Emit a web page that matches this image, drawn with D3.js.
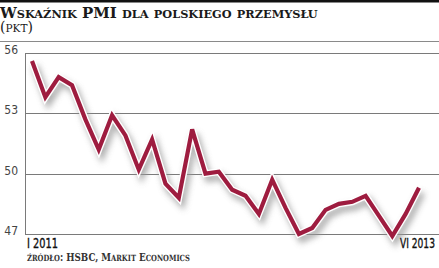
<!DOCTYPE html>
<html><head><meta charset="utf-8">
<script src="https://cdn.jsdelivr.net/npm/d3@7"></script>
<style>html,body{margin:0;padding:0;background:#fff;overflow:hidden}</style>
</head><body>
<svg id="c" width="439" height="268"></svg>
<script>
const months = d3.range(30); // I 2011 .. VI 2013
const pmi = [55.6,53.8,54.8,54.4,52.7,51.2,52.9,51.9,50.2,51.7,49.5,48.8,
             52.2,50.0,50.1,49.2,48.9,48.0,49.7,48.3,47.0,47.3,48.2,48.5,
             48.6,48.9,47.9,46.9,48.0,49.3];
const yTicks = [56,53,50,47];
const xLabels = ["I 2011","VI 2013"];
const title = "Wskaźnik PMI dla polskiego przemysłu";
const unit = "(pkt)";
const source = "źródło: HSBC, Markit Economics";

const svg = d3.select("#c");
const x = d3.scaleLinear().domain([0,29]).range([32,419]);
const y = d3.scaleLinear().domain([47,56]).range([234,53]);
const SERIF = "'DejaVu Serif', serif";
const COND = "'DejaVu Sans Condensed', 'DejaVu Sans', sans-serif";

function fitText(sel, x0, yb, w, anchor){
  const n = sel.node();
  const L = n.getComputedTextLength ? n.getComputedTextLength() : n.getBBox().width;
  const s = w / L;
  const tx = anchor === "end" ? x0 - w : x0;
  sel.attr("x",0).attr("y",0).attr("transform",`translate(${tx},${yb}) scale(${s},1)`);
  return sel;
}
function smallCaps(sel, str, big, small){
  const parts = [];
  for (const ch of str){
    const isLow = ch !== ch.toUpperCase();
    const last = parts[parts.length-1];
    if (last && last.low === isLow) last.t += ch; else parts.push({t:ch, low:isLow});
  }
  sel.selectAll("tspan").data(parts).join("tspan")
    .attr("font-size", d=>d.low?small:big).text(d=>d.low?d.t.toUpperCase():d.t);
  return sel;
}

svg.append("rect").attr("x",0).attr("y",0).attr("width",439).attr("height",2.5).attr("fill","#111");
svg.append("line").attr("x1",0).attr("x2",439).attr("y1",41.5).attr("y2",41.5).attr("stroke","#8a8a8a").attr("stroke-width",1.2);

const t = smallCaps(svg.append("text").attr("font-family",SERIF).attr("font-weight","bold").attr("fill","#1a1a1a"), title, 14.5, 11);
fitText(t, 0, 17.5, 318);
const u = svg.append("text").attr("font-family",SERIF).attr("fill","#1a1a1a");
u.append("tspan").attr("font-size",14).text(unit[0]);
u.append("tspan").attr("font-size",10.5).text(unit.slice(1,-1).toUpperCase());
u.append("tspan").attr("font-size",14).text(unit.slice(-1));
fitText(u, 0, 32, 33);

const g = svg.append("g");
g.selectAll("line.grid").data(yTicks).join("line").attr("class","grid")
  .attr("x1",25).attr("x2",439).attr("y1",d=>Math.round(y(d))+0.5).attr("y2",d=>Math.round(y(d))+0.5)
  .attr("stroke","#7a7a7a").attr("stroke-width",1);
g.append("line").attr("x1",25.5).attr("x2",25.5).attr("y1",y(56)).attr("y2",y(47)+0.5)
  .attr("stroke","#7a7a7a").attr("stroke-width",1);
g.selectAll("text.yl").data(yTicks).join("text").attr("class","yl")
  .attr("x",18).attr("y",d=>y(d)+1).attr("text-anchor","end")
  .attr("font-family",COND).attr("font-size",12).attr("fill","#444")
  .text(d=>d);

const defs = svg.append("defs");
const f = defs.append("filter").attr("id","sh").attr("x","-10%").attr("y","-10%").attr("width","120%").attr("height","130%");
f.append("feGaussianBlur").attr("stdDeviation",3);
const line = d3.line().x((d,i)=>x(months[i])).y(d=>y(d));
svg.append("path").datum(pmi).attr("d",line).attr("fill","none")
  .attr("stroke","#999").attr("stroke-width",7).attr("stroke-linejoin","miter")
  .attr("transform","translate(3,5)").attr("filter","url(#sh)").attr("opacity",0.8);
svg.append("path").datum(pmi).attr("d",line).attr("fill","none")
  .attr("stroke","#fff").attr("stroke-width",7).attr("stroke-linejoin","miter");
svg.append("path").datum(pmi).attr("d",line).attr("fill","none")
  .attr("stroke","#9e1c3f").attr("stroke-width",4.2).attr("stroke-linejoin","miter");

fitText(svg.append("text").text(xLabels[0]).attr("font-family",COND)
  .attr("font-size",14).attr("fill","#111").attr("stroke","#111").attr("stroke-width",0.35), 27, 248, 31);
fitText(svg.append("text").text(xLabels[1]).attr("font-family",COND)
  .attr("font-size",14).attr("fill","#111").attr("stroke","#111").attr("stroke-width",0.35), 435, 248, 35, "end");

const s = smallCaps(svg.append("text").attr("font-family",SERIF).attr("font-weight","bold").attr("fill","#333"), source, 11, 8.5);
fitText(s, 27, 261, 163);
</script>
</body></html>
